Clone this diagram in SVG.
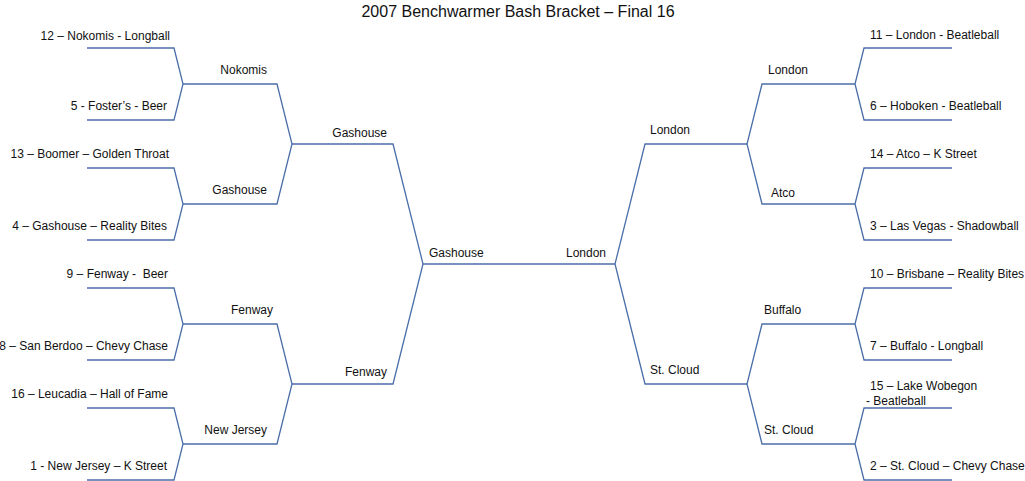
<svg xmlns="http://www.w3.org/2000/svg" width="1025" height="481" viewBox="0 0 1025 481">
<style>
text{font-family:"Liberation Sans",Arial,sans-serif;font-size:12px;fill:#111}
.e{text-anchor:end}
.t{font-size:16px;text-anchor:middle}
#connectors path{fill:none;stroke:#4a6ea8;stroke-width:1.3}
</style>
<rect width="1025" height="481" fill="#fff"/>
<text class="t" x="518" y="17">2007 Benchwarmer Bash Bracket – Final 16</text>
<g id="connectors">
<path d="M87,48H174L183,84L174,120H87"/>
<path d="M87,168H174L183,204L174,240H87"/>
<path d="M87,288H174L183,324L174,360H87"/>
<path d="M87,408H174L183,444L174,480H87"/>
<path d="M183,84H277L292,144L277,204H183"/>
<path d="M183,324H277L292,384L277,444H183"/>
<path d="M292,144H393L423,264L393,384H292"/>
<path d="M423,264H615"/>
<path d="M952,48H864L855,84L864,120H952"/>
<path d="M952,168H864L855,204L864,240H952"/>
<path d="M952,288H864L855,324L864,360H952"/>
<path d="M952,408H864L855,444L864,480H952"/>
<path d="M855,84H762L747,144L762,204H855"/>
<path d="M855,324H762L747,384L762,444H855"/>
<path d="M747,144H645L615,264L645,384H747"/>
</g>
<g id="l1"><text class="e" x="170" y="40">12 – Nokomis - Longball</text></g>
<g id="l2"><text class="e" x="167" y="110">5 - Foster’s - Beer</text></g>
<g id="l3"><text class="e" x="169" y="158">13 – Boomer – Golden Throat</text></g>
<g id="l4"><text class="e" x="167" y="230">4 – Gashouse – Reality Bites</text></g>
<g id="l5"><text class="e" x="168" y="278" xml:space="preserve">9 – Fenway -  Beer</text></g>
<g id="l6"><text class="e" x="168" y="350">8 – San Berdoo – Chevy Chase</text></g>
<g id="l7"><text class="e" x="168" y="398">16 – Leucadia – Hall of Fame</text></g>
<g id="l8"><text class="e" x="167" y="470">1 - New Jersey – K Street</text></g>
<g id="lr2a"><text class="e" x="267" y="74">Nokomis</text></g>
<g id="lr2b"><text class="e" x="267" y="194">Gashouse</text></g>
<g id="lr2c"><text class="e" x="273" y="314">Fenway</text></g>
<g id="lr2d"><text class="e" x="267" y="434">New Jersey</text></g>
<g id="lr3a"><text class="e" x="387" y="137">Gashouse</text></g>
<g id="lr3b"><text class="e" x="387" y="376">Fenway</text></g>
<g id="lfinal"><text x="429" y="257">Gashouse</text></g>
<g id="rfinal"><text class="e" x="606" y="257">London</text></g>
<g id="rr3a"><text x="650" y="134">London</text></g>
<g id="rr3b"><text x="650" y="374">St. Cloud</text></g>
<g id="rr2a"><text x="768" y="74">London</text></g>
<g id="rr2b"><text x="771" y="197">Atco</text></g>
<g id="rr2c"><text x="764" y="314">Buffalo</text></g>
<g id="rr2d"><text x="764" y="434">St. Cloud</text></g>
<g id="r1"><text x="870" y="39">11 – London - Beatleball</text></g>
<g id="r2"><text x="870" y="110">6 – Hoboken - Beatleball</text></g>
<g id="r3"><text x="870" y="158">14 – Atco – K Street</text></g>
<g id="r4"><text x="870" y="230">3 – Las Vegas - Shadowball</text></g>
<g id="r5"><text x="870" y="278">10 – Brisbane – Reality Bites</text></g>
<g id="r6"><text x="870" y="350">7 – Buffalo - Longball</text></g>
<g id="r7"><text x="870" y="390">15 – Lake Wobegon<tspan x="866" y="405">- Beatleball</tspan></text></g>
<g id="r8"><text x="870" y="470">2 – St. Cloud – Chevy Chase</text></g>
</svg>
